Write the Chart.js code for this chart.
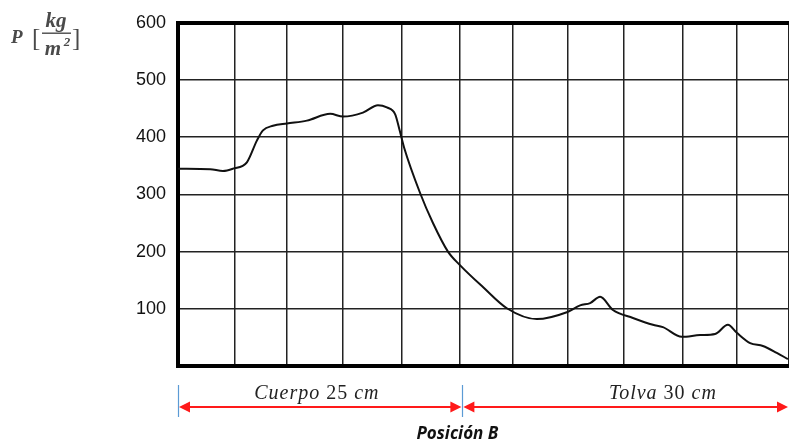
<!DOCTYPE html>
<html>
<head>
<meta charset="utf-8">
<script src="https://cdn.jsdelivr.net/npm/chart.js@4.4.1/dist/chart.umd.min.js"></script>
<style>
  html, body { margin: 0; padding: 0; background: #fff; overflow: hidden; }
  #chart { display: block; }
</style>
</head>
<body>
<canvas id="chart" width="789" height="446"></canvas>
<script>
// position along the silo, in grid divisions (0..11)
const positions = [0, 0.58, 0.81, 0.99, 1.24, 1.42, 1.53, 1.71, 1.96, 2.32, 2.74, 2.97, 3.33, 3.6, 3.76, 3.91, 3.99, 4.07, 4.36, 4.59, 4.86, 5.08, 5.49, 5.92, 6.46, 7.0, 7.24, 7.42, 7.6, 7.83, 8.19, 8.55, 8.73, 9.07, 9.4, 9.67, 9.9, 10.06, 10.3, 10.53, 10.78, 10.98];
// pressure P [kg/m2]
const pressure = [345, 344, 341, 345, 356, 394, 412, 420, 424, 429, 441, 436, 443, 456, 452, 440, 412, 382, 302, 250, 200, 176, 138, 101, 82, 94, 106, 110, 121, 98, 84, 72, 68, 51, 54, 56, 72, 58, 40, 35, 23, 12];
const yTicks = [100, 200, 300, 400, 500, 600];
// vertical grid lines of the hand-drawn grid (slightly uneven)
const xGrid = [0, 1.03, 1.96, 2.97, 4.03, 5.08, 6.03, 7.02, 8.03, 9.09, 10.06, 11];

// sections under the chart
const sectionBounds = [0, 5.12, 11];
const sectionLabels = [['Cuerpo', ' 25 ', 'cm'], ['Tolva', ' 30 ', 'cm']];
const sectionLabelPos = [2.5, 8.73];

const points = positions.map((x, i) => ({ x: x, y: pressure[i] }));

function arrowHead(ctx, x, y, dir) {
  ctx.beginPath();
  ctx.moveTo(x, y);
  ctx.lineTo(x - dir * 11, y - 5.5);
  ctx.lineTo(x - dir * 11, y + 5.5);
  ctx.closePath();
  ctx.fill();
}

function mixedText(ctx, parts, cx, y) {
  const fonts = ['italic 20px "Liberation Serif"', '20px "Liberation Serif"', 'italic 20px "Liberation Serif"'];
  ctx.letterSpacing = '1px';
  let total = 0;
  const widths = parts.map((p, i) => { ctx.font = fonts[i]; const w = ctx.measureText(p).width; total += w; return w; });
  let x = cx - total / 2;
  parts.forEach((p, i) => {
    ctx.font = fonts[i];
    ctx.fillText(p, x, y);
    x += widths[i];
  });
  ctx.letterSpacing = '0px';
}

const annotations = {
  id: 'annotations',
  afterDraw(chart) {
    const ctx = chart.ctx;
    const xs = chart.scales.x;
    ctx.save();

    // axis title P [kg/m2]
    ctx.fillStyle = '#4a4a4a';
    ctx.textBaseline = 'alphabetic';
    ctx.textAlign = 'left';
    ctx.font = 'italic bold 19px "Liberation Serif"';
    ctx.fillText('P', 11, 43);
    ctx.font = '25px "Liberation Serif"';
    ctx.fillText('[', 32, 46);
    ctx.fillText(']', 72, 46);
    ctx.font = 'italic bold 21px "Liberation Serif"';
    ctx.textAlign = 'center';
    ctx.fillText('kg', 56, 27);
    ctx.fillText('m', 53, 55);
    ctx.font = 'italic bold 13px "Liberation Serif"';
    ctx.fillText('2', 67, 46);
    ctx.fillRect(42, 32.5, 29, 1.4);

    // section arrows
    const y = 407;
    ctx.strokeStyle = '#5b9bd5';
    ctx.lineWidth = 1.2;
    [sectionBounds[0], sectionBounds[1]].forEach(v => {
      const px = Math.round(xs.getPixelForValue(v)) + 0.5;
      ctx.beginPath();
      ctx.moveTo(px, 385);
      ctx.lineTo(px, 417);
      ctx.stroke();
    });
    ctx.strokeStyle = '#ff1a1a';
    ctx.fillStyle = '#ff1a1a';
    ctx.lineWidth = 2;
    for (let i = 0; i < sectionBounds.length - 1; i++) {
      const a = xs.getPixelForValue(sectionBounds[i]) + 1;
      const b = xs.getPixelForValue(sectionBounds[i + 1]) - 1;
      ctx.beginPath();
      ctx.moveTo(a + 5, y);
      ctx.lineTo(b - 5, y);
      ctx.stroke();
      arrowHead(ctx, a, y, -1);
      arrowHead(ctx, b, y, 1);
    }

    ctx.fillStyle = '#222';
    ctx.textAlign = 'left';
    ctx.textBaseline = 'alphabetic';
    sectionLabels.forEach((parts, i) => {
      mixedText(ctx, parts, xs.getPixelForValue(sectionLabelPos[i]), 399);
    });

    ctx.textAlign = 'center';
    ctx.fillStyle = '#111';
    ctx.font = 'italic bold 17px "Open Sans"';
    ctx.fillText('Posición B', xs.getPixelForValue(sectionBounds[1]) - 5, 439);
    ctx.restore();
  }
};

new Chart(document.getElementById('chart').getContext('2d'), {
  type: 'line',
  data: {
    datasets: [{
      data: points,
      borderColor: '#111',
      borderWidth: 2,
      pointRadius: 0,
      cubicInterpolationMode: 'monotone',
      fill: false
    }]
  },
  options: {
    responsive: false,
    animation: false,
    layout: { padding: { top: 22, bottom: 80, left: 0, right: 0 } },
    plugins: { legend: { display: false }, tooltip: { enabled: false } },
    scales: {
      x: {
        type: 'linear',
        min: 0,
        max: 11,
        afterFit: s => { s.height = 0; },
        afterBuildTicks: s => { s.ticks = xGrid.map(v => ({ value: v })); },
        ticks: { display: false },
        grid: { color: '#222', lineWidth: 1.5, drawTicks: false },
        border: { color: '#000', width: 4 }
      },
      y: {
        min: 0,
        max: 600,
        afterFit: s => { s.width = 178; },
        afterBuildTicks: s => { s.ticks = [{ value: 0 }].concat(yTicks.map(v => ({ value: v }))); },
        ticks: {
          padding: 12,
          color: '#111',
          font: { family: '"Liberation Sans", Arial', size: 18 },
          callback: v => (v === 0 ? '' : v)
        },
        grid: {
          color: ctx => (ctx.tick && ctx.tick.value === 600 ? '#000' : '#222'),
          lineWidth: ctx => (ctx.tick && ctx.tick.value === 600 ? 4 : 1.5),
          drawTicks: false
        },
        border: { color: '#000', width: 4 }
      }
    }
  },
  plugins: [annotations]
});
</script>
</body>
</html>
